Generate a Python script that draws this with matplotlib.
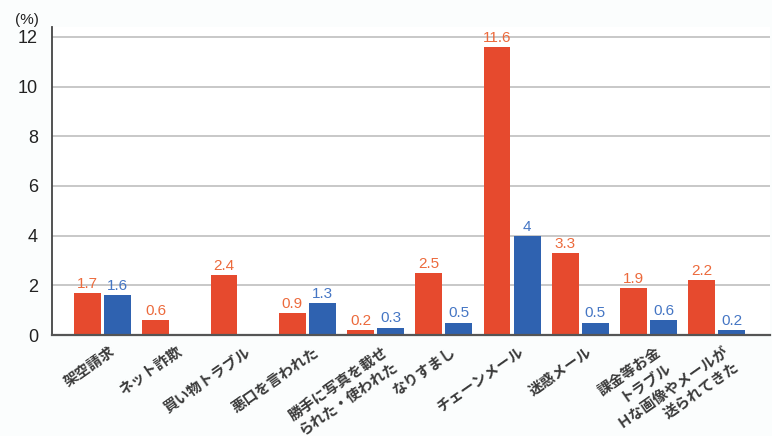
import numpy as np
import matplotlib
matplotlib.use("Agg")
import matplotlib.pyplot as plt

categories = [
    "架空請求",
    "ネット詐欺",
    "買い物トラブル",
    "悪口を言われた",
    "勝手に写真を載せ\nられた・使われた",
    "なりすまし",
    "チェーンメール",
    "迷惑メール",
    "課金等お金\nトラブル",
    "Ｈな画像やメールが\n送られてきた",
]
series_red = [1.7, 0.6, 2.4, 0.9, 0.2, 2.5, 11.6, 3.3, 1.9, 2.2]
series_blue = [1.6, np.nan, np.nan, 1.3, 0.3, 0.5, 4.0, 0.5, 0.6, 0.2]
red_labels = ["1.7", "0.6", "2.4", "0.9", "0.2", "2.5", "11.6", "3.3", "1.9", "2.2"]
blue_labels = ["1.6", "", "", "1.3", "0.3", "0.5", "4", "0.5", "0.6", "0.2"]
yticks = [0, 2, 4, 6, 8, 10, 12]

RED = "#e64a2e"
BLUE = "#2f62b0"
RED_TXT = "#ec6a3c"
BLUE_TXT = "#4576c4"

fig = plt.figure(figsize=(7.72, 4.36), dpi=100)
fig.patch.set_facecolor("#fbfdfd")
ax = fig.add_axes([52 / 772, 1 - 335 / 436, (770 - 52) / 772, (335 - 27) / 436])
ax.set_facecolor("#ffffff")

x = np.arange(len(categories))
w = 0.395
off = 0.22

ax.set_xlim(-0.74, 9.78)
ax.set_ylim(0, 12.4)

for v in yticks[1:]:
    ax.axhline(v, color="#c4c4c4", lw=1.3, zorder=0)

red_x = x - off
blue_x = x + off
ax.bar(red_x, series_red, width=w, color=RED, zorder=2)
bv = np.array(series_blue, dtype=float)
mask = ~np.isnan(bv)
ax.bar(blue_x[mask], bv[mask], width=w, color=BLUE, zorder=2)

lab_font = dict(family="Liberation Sans", fontsize=11)
for xi, v, t in zip(red_x, series_red, red_labels):
    ax.annotate(t, (xi, v), xytext=(0, 1.5), textcoords="offset points",
                ha="center", va="bottom", color=RED_TXT, zorder=3, **lab_font)
for xi, v, t in zip(blue_x, series_blue, blue_labels):
    if np.isnan(v):
        continue
    ax.annotate(t, (xi, v), xytext=(0, 1.5), textcoords="offset points",
                ha="center", va="bottom", color=BLUE_TXT, zorder=3, **lab_font)

for s in ["top", "right"]:
    ax.spines[s].set_visible(False)
ax.spines["left"].set_color("#444444")
ax.spines["left"].set_linewidth(1.3)
ax.spines["bottom"].set_color("#555555")
ax.spines["bottom"].set_linewidth(1.6)

ax.set_yticks(yticks)
ax.set_yticklabels([str(t) for t in yticks], family="Liberation Sans", fontsize=13, color="#222222")
ax.tick_params(axis="y", length=0, pad=10)

ax.set_xticks(x + 0.08)
ax.set_xticklabels(categories, rotation=35, ha="right", rotation_mode="anchor",
                   family=["Noto Sans CJK JP", "DejaVu Sans"], fontsize=10.5,
                   fontweight="bold", color="#3a3a3a", multialignment="right",
                   linespacing=1.1)
ax.tick_params(axis="x", length=0, pad=6)

fig.text(15 / 772, 1 - 20 / 436, "(%)", family="Liberation Sans", fontsize=11,
         color="#222222", ha="left", va="center")

fig.savefig("out.png", dpi=100, facecolor=fig.get_facecolor())
